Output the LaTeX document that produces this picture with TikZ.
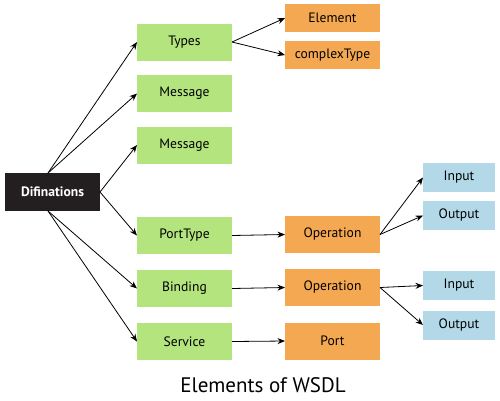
\documentclass[tikz,border=0pt]{standalone}
\usepackage{fontspec}
\setmainfont{PT Sans}
\usetikzlibrary{arrows.meta}
\definecolor{grn}{HTML}{B3E47D}
\definecolor{org}{HTML}{F5A852}
\definecolor{blu}{HTML}{B3D9E8}
\definecolor{blk}{HTML}{231F20}
\begin{document}
\begin{tikzpicture}[x=1pt,y=-1pt,
  box/.style={inner sep=0pt, outer sep=0pt, font=\fontsize{13.6}{15}\selectfont},
  gbox/.style={box, fill=grn, minimum width=95pt, minimum height=37pt},
  obox/.style={box, fill=org, minimum width=95pt, minimum height=37pt},
  osmall/.style={box, fill=org, minimum width=95pt, minimum height=28pt},
  bbox/.style={box, fill=blu, minimum width=72pt, minimum height=29pt},
  arr/.style={-{Stealth[length=7.5pt,width=6pt]}, line width=0.8pt, black}]
\useasboundingbox (0,0) rectangle (500,400);
\node[box, fill=blk, text=white, minimum width=95pt, minimum height=38pt, font=\fontsize{13.6}{15}\selectfont\bfseries] (def) at (52.5,192) {Difinations};
\node[gbox] (types) at (184.5,42) {Types};
\node[gbox] (msg1) at (184.5,93.5) {Message};
\node[gbox] (msg2) at (184.5,145) {Message};
\node[gbox] (port) at (184.5,235.5) {PortType};
\node[gbox] (bind) at (184.5,288.5) {Binding};
\node[gbox] (serv) at (184.5,341.5) {Service};
\node[osmall] (elem) at (332.5,18) {Element};
\node[osmall] (ctype) at (332.5,55) {complexType};
\node[obox] (op1) at (332.5,234.5) {Operation};
\node[obox] (op2) at (332.5,287.5) {Operation};
\node[obox] (prt) at (332.5,341) {Port};
\node[bbox] (in1) at (459,177.5) {Input};
\node[bbox] (out1) at (459,215.5) {Output};
\node[bbox] (in2) at (459,285.5) {Input};
\node[bbox] (out2) at (459,325) {Output};
\node[font=\fontsize{21}{24}\selectfont] (title) at (263,385) {Elements of WSDL};
\coordinate (dtop) at (48,173);
\coordinate (dbot) at (48,211);
\coordinate (dright) at (100,192);
\draw[arr] (dtop) -- (types.west);
\draw[arr] (dtop) -- (msg1.west);
\draw[arr] (dright) -- (msg2.west);
\draw[arr] (dright) -- (port.west);
\draw[arr] (dbot) -- (bind.west);
\draw[arr] (dbot) -- (serv.west);
\draw[arr] (types.east) -- (elem.west);
\draw[arr] (types.east) -- (ctype.west);
\draw[arr] (port.east) -- (op1.west);
\draw[arr] (bind.east) -- (op2.west);
\draw[arr] (serv.east) -- (prt.west);
\draw[arr] (op1.east) -- (in1.west);
\draw[arr] (op1.east) -- (out1.west);
\draw[arr] (op2.east) -- (in2.west);
\draw[arr] (op2.east) -- (out2.west);
\end{tikzpicture}
\end{document}
